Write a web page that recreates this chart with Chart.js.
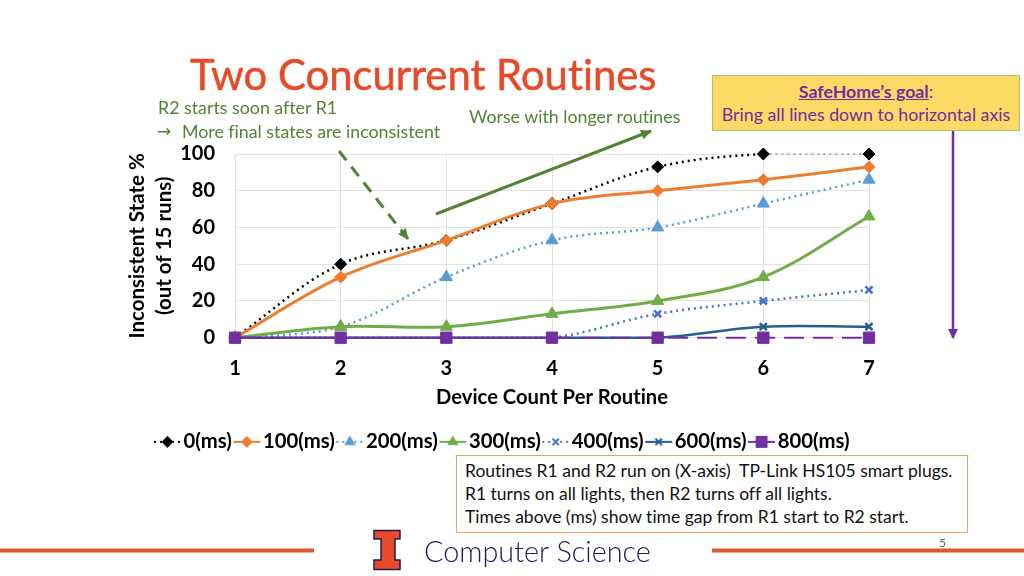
<!DOCTYPE html>
<html lang="en">
<head>
<meta charset="UTF-8">
<title>Two Concurrent Routines</title>
<style>
    html, body {margin: 0; padding: 0; background: #fff;}
    body {width: 1024px; height: 576px; position: relative; overflow: hidden; font-family: Lato, sans-serif; font-variant-ligatures: none;}
    canvas {position: absolute; left: 0; top: 0;}
    svg {position: absolute; left: 0; top: 0;}
    .txt {position: absolute; white-space: nowrap;}
    .green {color: #548235; font-size: 17.8px; line-height: 23px;}
    #title {left: 190px; top: 47px; font-size: 41.8px; line-height: 54px; color: #e84a27; -webkit-text-stroke: 0.5px #e84a27;}
    #goal {left: 712px; top: 75px; width: 308px; height: 56px; box-sizing: border-box; background: #ffd966;
           border: 1.5px solid #a9c46c; color: #7030a0; text-align: center; font-size: 17.75px; line-height: 23px; padding-top: 4px;}
    #goal b {text-decoration: underline;}
    #note {left: 456px; top: 455px; width: 512px; height: 78px; box-sizing: border-box; background: #fff;
           border: 1px solid #ed9e62; font-size: 17.5px; line-height: 23px; padding: 3px 0 0 8px; color: #111;}
    #cs {left: 424px; top: 530px; font-size: 30px; line-height: 40px; color: #1c1c5e; font-weight: 300; transform: scaleX(0.96); transform-origin: left center;}
    #page {left: 939px; top: 535px; font-size: 12px; color: #666;}
</style>
<script src="https://cdn.jsdelivr.net/npm/chart.js"></script>
</head>
<body>
<canvas id="chart" width="1024" height="466"></canvas>

<svg width="1024" height="576">
    <defs>
        <marker id="headGreen" markerUnits="userSpaceOnUse" markerWidth="11" markerHeight="10" refX="10" refY="5" orient="auto"><path d="M0,0 L11,5 L0,10 Z" fill="#548235"/></marker>
        <marker id="headPurple" markerUnits="userSpaceOnUse" markerWidth="10" markerHeight="10" refX="9" refY="5" orient="auto"><path d="M0,0 L10,5 L0,10 Z" fill="#7030a0"/></marker>
    </defs>
    <line x1="339" y1="151" x2="408" y2="239" stroke="#548235" stroke-width="3" stroke-dasharray="12 8" marker-end="url(#headGreen)"/>
    <line x1="436" y1="214" x2="651" y2="131" stroke="#548235" stroke-width="3" marker-end="url(#headGreen)"/>
    <line x1="953" y1="131" x2="953" y2="338" stroke="#7030a0" stroke-width="2.5" marker-end="url(#headPurple)"/>
    <rect x="0" y="548.5" width="314" height="4" fill="#e0572f"/>
    <rect x="712" y="548.5" width="312" height="4" fill="#e0572f"/>
    <path d="M374,530.5 H400 V539 H395 V560 H400 V569.5 H374 V560 H381 V539 H374 Z" fill="#e84a27" stroke="#1c1c5e" stroke-width="1.5"/>
</svg>

<div class="txt" id="title">Two Concurrent Routines</div>
<div class="txt green" style="left:158px; top:96px;">R2 starts soon after R1</div>
<div class="txt green" style="left:157px; top:120px; font-family:'DejaVu Sans'; font-size:17px;">&rarr;</div>
<div class="txt green" style="left:182px; top:120px;">More final states are inconsistent</div>
<div class="txt green" style="left:469px; top:105px;">Worse with longer routines</div>
<div class="txt" id="goal"><b>SafeHome&rsquo;s goal</b>:<br>Bring all lines down to horizontal axis</div>
<div class="txt" id="note">Routines R1 and R2 run on (X-axis)&nbsp; TP-Link HS105 smart plugs.<br>R1 turns on all lights, then R2 turns off all lights.<br>Times above (ms) show time gap from R1 start to R2 start.</div>
<div class="txt" id="cs">Computer Science</div>
<div class="txt" id="page">5</div>

<script>
    const categories = ['1', '2', '3', '4', '5', '6', '7'];
    const yTicks = [0, 20, 40, 60, 80, 100];
    const names = ['0(ms)', '100(ms)', '200(ms)', '300(ms)', '400(ms)', '600(ms)', '800(ms)'];

    const vals0 = [0, 40, 53, 73, 93, 100, 100];
    const vals100 = [0, 33, 53, 73, 80, 86, 93];
    const vals200 = [0, 6, 33, 53, 60, 73, 86];
    const vals300 = [0, 6, 6, 13, 20, 33, 66];
    const vals400 = [0, 0, 0, 0, 13, 20, 26];
    const vals600 = [0, 0, 0, 0, 0, 6, 6];
    const vals800 = [0, 0, 0, 0, 0, 0, 0];

    const colors = ['#000000', '#ed7d31', '#5b9bd5', '#70ad47', '#4472c4', '#255e91', '#7030a0'];
    const widths = [2.5, 3, 2.5, 3, 2.5, 2.5, 2];
    const dashes = [[2, 4], [], [2, 4], [], [2, 4], [], []];
    const markers = ['rectRot', 'rectRot', 'triangle', 'triangle', 'crossRot', 'crossRot', 'rect'];
    const sizes = [6, 6, 7, 7, 5, 5, 8];
    const allVals = [vals0, vals100, vals200, vals300, vals400, vals600, vals800];

    // little line + marker picture, used as legend symbol (blank left part keeps it off the previous label)
    function legendSymbol(i) {
        const c = document.createElement('canvas');
        c.width = 40;
        c.height = 16;
        const g = c.getContext('2d');
        g.strokeStyle = colors[i];
        g.fillStyle = colors[i];
        g.lineWidth = 2;
        g.setLineDash(dashes[i]);
        g.beginPath();
        g.moveTo(11, 8);
        g.lineTo(38, 8);
        g.stroke();
        g.setLineDash([]);
        Chart.helpers.drawPoint(g, {
            pointStyle: markers[i],
            radius: i === 6 ? 7 : 4.5,
            borderWidth: markers[i] === 'crossRot' ? 2 : 1
        }, 24.5, 8);
        g.fill();
        return c;
    }

    const datasets = names.map((name, i) => ({
        label: name,
        data: allVals[i],
        order: names.length - i, // later series sit on top
        borderColor: colors[i],
        backgroundColor: colors[i],
        borderWidth: widths[i],
        borderDash: dashes[i],
        tension: 0.35,
        clip: false,
        pointStyle: markers[i],
        pointRadius: sizes[i],
        pointBorderColor: colors[i],
        pointBackgroundColor: colors[i],
        pointBorderWidth: markers[i] === 'crossRot' ? 2.5 : 1,
        segment: i === 6 ? {borderDash: ctx => ctx.p0DataIndex >= 3 ? [20, 9] : undefined}
               : i === 0 ? {borderColor: ctx => ctx.p0DataIndex === 5 ? '#999999' : undefined,
                            borderWidth: ctx => ctx.p0DataIndex === 5 ? 1.3 : undefined}
               : undefined
    }));

    new Chart(document.getElementById('chart').getContext('2d'), {
        type: 'line',
        data: {labels: categories, datasets: datasets},
        options: {
            responsive: false,
            animation: false,
            layout: {padding: {left: 133, right: 155, top: 154, bottom: 4}},
            plugins: {
                tooltip: {enabled: false},
                legend: {
                    position: 'bottom',
                    labels: {
                        usePointStyle: true,
                        pointStyleWidth: 21,
                        padding: 0,
                        color: '#000',
                        font: {family: 'Lato', size: 20.3, weight: 'bold'},
                        generateLabels: chart => names.map((name, i) => ({
                            text: name,
                            pointStyle: legendSymbol(i),
                            datasetIndex: i,
                            hidden: false
                        }))
                    }
                }
            },
            scales: {
                x: {
                    offset: false,
                    afterFit: axis => { axis.height = 94; },
                    grid: {color: '#e2e2e2', drawTicks: false},
                    border: {color: '#e2e2e2'},
                    ticks: {color: '#000', padding: 19, font: {family: 'Lato', size: 20, weight: 'bold'}, maxRotation: 0},
                    title: {display: true, text: 'Device Count Per Routine', color: '#000', padding: {top: 8, bottom: 22},
                            font: {family: 'Lato', size: 20.2, weight: 'bold'}}
                },
                y: {
                    min: 0,
                    max: 100,
                    afterBuildTicks: axis => { axis.ticks = yTicks.map(v => ({value: v})); },
                    afterFit: axis => { axis.width = 102; },
                    grid: {color: '#e2e2e2', drawTicks: false},
                    border: {color: '#e2e2e2'},
                    ticks: {color: '#000', padding: 20, font: {family: 'Lato', size: 20, weight: 'bold'}},
                    title: {display: true, text: ['Inconsistent State %', '(out of 15 runs)'], color: '#000', padding: {top: -9, bottom: 0},
                            font: {family: 'Lato', size: 20.5, weight: 'bold', lineHeight: 1.3}}
                }
            }
        }
    });
</script>
</body>
</html>
